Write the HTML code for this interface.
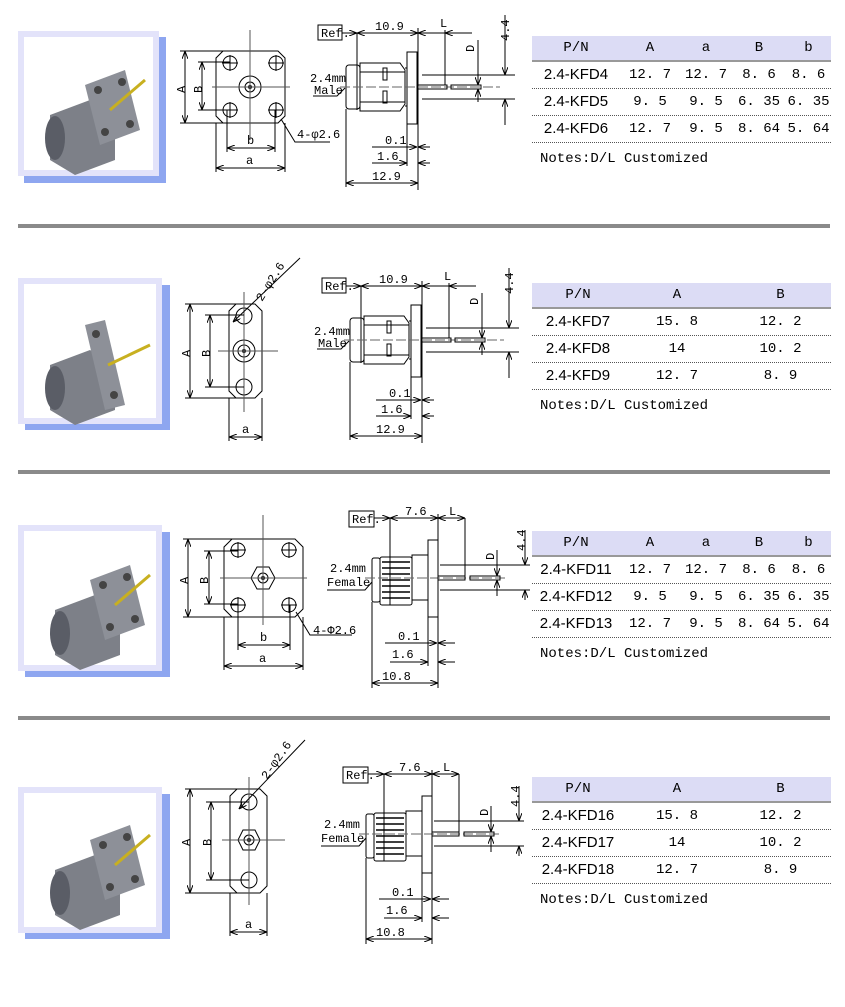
<!DOCTYPE html>
<html><head><meta charset="utf-8"><style>
body{margin:0;width:845px;height:1007px;background:#fff;position:relative;overflow:hidden;font-family:"Liberation Sans",sans-serif}
.frame{position:absolute;background:#fff;border:6px solid #e3e3fa;box-sizing:border-box}
.shadow{position:absolute;background:#8ea6f0}
.sep{position:absolute;left:18px;width:812px;height:4px;background:#8a8a8a}
.tbl{position:absolute;left:532px;width:299px}
.hdr{background:#dcdcf5;height:24px;display:flex;font-family:"Liberation Mono",monospace;font-size:14px;line-height:24px;border-bottom:2px solid #999}
.row{display:flex;height:26px;line-height:26px;border-bottom:1px dotted #555;font-family:"Liberation Mono",monospace;font-size:14px}
.row div,.hdr div{text-align:center;white-space:nowrap}
.row div:first-child{font-family:"Liberation Sans",sans-serif;font-size:15px}
.notes{font-family:"Liberation Mono",monospace;font-size:14px;margin-top:8px;padding-left:8px}
svg{position:absolute;left:0;top:0}
svg text{font-family:"Liberation Mono",monospace;font-size:12px;fill:#000}
</style></head><body>

<div class="shadow" style="left:24px;top:37px;width:142px;height:146px"></div>
<div class="frame" style="left:18px;top:31px;width:141px;height:145px"></div>
<div class="shadow" style="left:25px;top:285px;width:145px;height:145px"></div>
<div class="frame" style="left:18px;top:278px;width:144px;height:146px"></div>
<div class="shadow" style="left:25px;top:532px;width:145px;height:145px"></div>
<div class="frame" style="left:18px;top:525px;width:144px;height:146px"></div>
<div class="shadow" style="left:25px;top:794px;width:145px;height:145px"></div>
<div class="frame" style="left:18px;top:787px;width:144px;height:146px"></div>

<div class="sep" style="top:224px"></div>
<div class="sep" style="top:470px"></div>
<div class="sep" style="top:716px"></div>

<div class="tbl" style="top:36px">
<div class="hdr"><div style="width:88px">P/N</div><div style="width:60px">A</div><div style="width:52px">a</div><div style="width:54px">B</div><div style="width:45px">b</div></div>
<div class="row"><div style="width:88px">2.4-KFD4</div><div style="width:60px">12. 7</div><div style="width:52px">12. 7</div><div style="width:54px">8. 6</div><div style="width:45px">8. 6</div></div>
<div class="row"><div style="width:88px">2.4-KFD5</div><div style="width:60px">9. 5</div><div style="width:52px">9. 5</div><div style="width:54px">6. 35</div><div style="width:45px">6. 35</div></div>
<div class="row"><div style="width:88px">2.4-KFD6</div><div style="width:60px">12. 7</div><div style="width:52px">9. 5</div><div style="width:54px">8. 64</div><div style="width:45px">5. 64</div></div>
<div class="notes">Notes:D/L Customized</div>
</div>
<div class="tbl" style="top:283px">
<div class="hdr"><div style="width:92px">P/N</div><div style="width:106px">A</div><div style="width:101px">B</div></div>
<div class="row"><div style="width:92px">2.4-KFD7</div><div style="width:106px">15. 8</div><div style="width:101px">12. 2</div></div>
<div class="row"><div style="width:92px">2.4-KFD8</div><div style="width:106px">14</div><div style="width:101px">10. 2</div></div>
<div class="row"><div style="width:92px">2.4-KFD9</div><div style="width:106px">12. 7</div><div style="width:101px">8. 9</div></div>
<div class="notes">Notes:D/L Customized</div>
</div>
<div class="tbl" style="top:531px">
<div class="hdr"><div style="width:88px">P/N</div><div style="width:60px">A</div><div style="width:52px">a</div><div style="width:54px">B</div><div style="width:45px">b</div></div>
<div class="row"><div style="width:88px">2.4-KFD11</div><div style="width:60px">12. 7</div><div style="width:52px">12. 7</div><div style="width:54px">8. 6</div><div style="width:45px">8. 6</div></div>
<div class="row"><div style="width:88px">2.4-KFD12</div><div style="width:60px">9. 5</div><div style="width:52px">9. 5</div><div style="width:54px">6. 35</div><div style="width:45px">6. 35</div></div>
<div class="row"><div style="width:88px">2.4-KFD13</div><div style="width:60px">12. 7</div><div style="width:52px">9. 5</div><div style="width:54px">8. 64</div><div style="width:45px">5. 64</div></div>
<div class="notes">Notes:D/L Customized</div>
</div>
<div class="tbl" style="top:777px">
<div class="hdr"><div style="width:92px">P/N</div><div style="width:106px">A</div><div style="width:101px">B</div></div>
<div class="row"><div style="width:92px">2.4-KFD16</div><div style="width:106px">15. 8</div><div style="width:101px">12. 2</div></div>
<div class="row"><div style="width:92px">2.4-KFD17</div><div style="width:106px">14</div><div style="width:101px">10. 2</div></div>
<div class="row"><div style="width:92px">2.4-KFD18</div><div style="width:106px">12. 7</div><div style="width:101px">8. 9</div></div>
<div class="notes">Notes:D/L Customized</div>
</div>

<svg width="845" height="1007" viewBox="0 0 845 1007">
<defs>
<marker id="a" markerWidth="8" markerHeight="6" refX="8" refY="3" orient="auto-start-reverse" markerUnits="userSpaceOnUse"><path d="M0,0 L8,3 L0,6" fill="none" stroke="#000" stroke-width="1"/></marker>
<g id="photo4">
 <path d="M20,55 L60,40 L85,55 L85,100 L45,115 L20,100Z" fill="#7d8088"/>
 <ellipse cx="25" cy="78" rx="10" ry="22" fill="#5a5d66"/>
 <path d="M55,25 L95,10 L110,70 L70,85Z" fill="#8d9098"/>
 <circle cx="68" cy="30" r="4" fill="#444"/><circle cx="92" cy="22" r="4" fill="#444"/><circle cx="75" cy="72" r="4" fill="#444"/><circle cx="100" cy="64" r="4" fill="#444"/>
 <line x1="80" y1="50" x2="115" y2="20" stroke="#c8b020" stroke-width="3"/>
</g>
<g id="photo2">
 <path d="M20,55 L60,40 L85,55 L85,100 L45,115 L20,100Z" fill="#7d8088"/>
 <ellipse cx="25" cy="78" rx="10" ry="22" fill="#5a5d66"/>
 <path d="M55,15 L75,10 L95,95 L75,100Z" fill="#8d9098"/>
 <circle cx="66" cy="24" r="4" fill="#444"/><circle cx="84" cy="85" r="4" fill="#444"/>
 <line x1="78" y1="55" x2="120" y2="35" stroke="#c8b020" stroke-width="3"/>
</g>
</defs>

<use href="#photo4" x="30" y="60"/>
<use href="#photo2" x="30" y="310"/>
<use href="#photo4" x="35" y="555"/>
<use href="#photo4" x="35" y="815"/>

<g fill="none" stroke="#000" stroke-width="1">
<path d="M223,51 L278,51 L285,58 L285,116 L278,123 L223,123 L216,116 L216,58Z"/>
<circle cx="230" cy="63" r="7"/><circle cx="276" cy="63" r="7"/><circle cx="230" cy="110" r="7"/><circle cx="276" cy="110" r="7"/>
<circle cx="250" cy="87" r="11"/><circle cx="250" cy="87" r="5"/><circle cx="250" cy="87" r="1.5" fill="#000"/>
<line x1="250" y1="30" x2="250" y2="140" stroke="#555"/><line x1="212" y1="87" x2="290" y2="87" stroke="#555"/>
<line x1="222" y1="63" x2="238" y2="63"/><line x1="230" y1="55" x2="230" y2="71"/><line x1="268" y1="63" x2="284" y2="63"/><line x1="276" y1="55" x2="276" y2="71"/>
<line x1="222" y1="110" x2="238" y2="110"/><line x1="230" y1="102" x2="230" y2="118"/><line x1="268" y1="110" x2="284" y2="110"/><line x1="276" y1="102" x2="276" y2="118"/>
<line x1="180" y1="51" x2="223" y2="51"/><line x1="180" y1="123" x2="223" y2="123"/>
<line x1="185" y1="51" x2="185" y2="123" marker-start="url(#a)" marker-end="url(#a)"/>
<line x1="198" y1="62" x2="230" y2="62"/><line x1="198" y1="110" x2="230" y2="110"/>
<line x1="202" y1="62" x2="202" y2="110" marker-start="url(#a)" marker-end="url(#a)"/>
<line x1="227" y1="110" x2="227" y2="152"/><line x1="275" y1="110" x2="275" y2="152"/>
<line x1="227" y1="148" x2="275" y2="148" marker-start="url(#a)" marker-end="url(#a)"/>
<line x1="216" y1="123" x2="216" y2="172"/><line x1="285" y1="123" x2="285" y2="172"/>
<line x1="216" y1="168" x2="285" y2="168" marker-start="url(#a)" marker-end="url(#a)"/>
<polyline points="330,142 295,142 281,119"/>

<path d="M232,539 L295,539 L303,547 L303,609 L295,617 L232,617 L224,609 L224,547Z"/>
<circle cx="238" cy="550" r="7"/><circle cx="289" cy="550" r="7"/><circle cx="238" cy="605" r="7"/><circle cx="289" cy="605" r="7"/>
<path d="M257,567 L269,567 L275,578 L269,589 L257,589 L251,578Z"/><circle cx="263" cy="578" r="5"/><circle cx="263" cy="578" r="1.5" fill="#000"/>
<line x1="263" y1="515" x2="263" y2="625" stroke="#555"/><line x1="220" y1="578" x2="307" y2="578" stroke="#555"/>
<line x1="230" y1="550" x2="246" y2="550"/><line x1="238" y1="542" x2="238" y2="558"/><line x1="281" y1="550" x2="297" y2="550"/><line x1="289" y1="542" x2="289" y2="558"/>
<line x1="230" y1="605" x2="246" y2="605"/><line x1="238" y1="597" x2="238" y2="613"/><line x1="281" y1="605" x2="297" y2="605"/><line x1="289" y1="597" x2="289" y2="613"/>
<line x1="183" y1="539" x2="232" y2="539"/><line x1="183" y1="617" x2="232" y2="617"/>
<line x1="188" y1="539" x2="188" y2="617" marker-start="url(#a)" marker-end="url(#a)"/>
<line x1="204" y1="551" x2="238" y2="551"/><line x1="204" y1="604" x2="238" y2="604"/>
<line x1="209" y1="551" x2="209" y2="604" marker-start="url(#a)" marker-end="url(#a)"/>
<line x1="238" y1="605" x2="238" y2="650"/><line x1="290" y1="605" x2="290" y2="650"/>
<line x1="238" y1="645" x2="290" y2="645" marker-start="url(#a)" marker-end="url(#a)"/>
<line x1="224" y1="617" x2="224" y2="670"/><line x1="303" y1="617" x2="303" y2="670"/>
<line x1="224" y1="666" x2="303" y2="666" marker-start="url(#a)" marker-end="url(#a)"/>
<polyline points="352,635 310,635 296,612"/>

<path d="M236,304 L255,304 L262,311 L262,391 L255,398 L236,398 L229,391 L229,311Z"/>
<circle cx="244" cy="316" r="8"/><circle cx="244" cy="387" r="8"/>
<circle cx="244" cy="351" r="11"/><circle cx="244" cy="351" r="6"/><circle cx="244" cy="351" r="1.5" fill="#000"/>
<line x1="244" y1="292" x2="244" y2="412" stroke="#555"/><line x1="218" y1="351" x2="278" y2="351" stroke="#555"/>
<line x1="185" y1="304" x2="236" y2="304"/><line x1="185" y1="398" x2="236" y2="398"/>
<line x1="190" y1="304" x2="190" y2="398" marker-start="url(#a)" marker-end="url(#a)"/>
<line x1="205" y1="315" x2="244" y2="315"/><line x1="205" y1="387" x2="244" y2="387"/>
<line x1="210" y1="315" x2="210" y2="387" marker-start="url(#a)" marker-end="url(#a)"/>
<line x1="229" y1="398" x2="229" y2="441"/><line x1="262" y1="398" x2="262" y2="441"/>
<line x1="229" y1="437" x2="262" y2="437" marker-start="url(#a)" marker-end="url(#a)"/>
<line x1="300" y1="258" x2="233" y2="322" marker-end="url(#a)"/>

<path d="M237,789 L260,789 L267,796 L267,886 L260,893 L237,893 L230,886 L230,796Z"/>
<circle cx="249" cy="802" r="8"/><circle cx="249" cy="880" r="8"/>
<path d="M243,830 L255,830 L260,840 L255,850 L243,850 L238,840Z"/><circle cx="249" cy="840" r="5"/><circle cx="249" cy="840" r="1.5" fill="#000"/>
<line x1="249" y1="777" x2="249" y2="905" stroke="#555"/><line x1="222" y1="840" x2="285" y2="840" stroke="#555"/>
<line x1="185" y1="789" x2="237" y2="789"/><line x1="185" y1="893" x2="237" y2="893"/>
<line x1="190" y1="789" x2="190" y2="893" marker-start="url(#a)" marker-end="url(#a)"/>
<line x1="206" y1="802" x2="249" y2="802"/><line x1="206" y1="880" x2="249" y2="880"/>
<line x1="211" y1="802" x2="211" y2="880" marker-start="url(#a)" marker-end="url(#a)"/>
<line x1="230" y1="893" x2="230" y2="936"/><line x1="267" y1="893" x2="267" y2="936"/>
<line x1="230" y1="932" x2="267" y2="932" marker-start="url(#a)" marker-end="url(#a)"/>
<line x1="305" y1="740" x2="239" y2="809" marker-end="url(#a)"/>
</g>

<g font-size="12">
<text x="174" y="92" transform="rotate(-90 180 87)">A</text>
<text x="191" y="92" transform="rotate(-90 197 87)">B</text>
<text x="247" y="144">b</text><text x="246" y="164">a</text>
<text x="297" y="138">4-φ2.6</text>
<text x="177" y="583" transform="rotate(-90 183 578)">A</text>
<text x="197" y="583" transform="rotate(-90 203 578)">B</text>
<text x="260" y="641">b</text><text x="259" y="662">a</text>
<text x="313" y="634">4-Φ2.6</text>
<text x="179" y="356" transform="rotate(-90 185 351)">A</text>
<text x="199" y="356" transform="rotate(-90 205 351)">B</text>
<text x="242" y="433">a</text>
<text x="262" y="302" transform="rotate(-58 262 302)">2-φ2.6</text>
<text x="179" y="845" transform="rotate(-90 185 840)">A</text>
<text x="200" y="845" transform="rotate(-90 206 840)">B</text>
<text x="245" y="928">a</text>
<text x="267" y="780" transform="rotate(-55 267 780)">2-φ2.6</text>
</g>

<g id="male">
<g fill="none" stroke="#000" stroke-width="1">
<rect x="318" y="25" width="24" height="15"/>
<line x1="342" y1="33" x2="357" y2="33" marker-end="url(#a)"/>
<line x1="357" y1="33" x2="418" y2="33" marker-start="url(#a)" marker-end="url(#a)"/>
<line x1="357" y1="33" x2="357" y2="110"/>
<line x1="418" y1="28" x2="418" y2="190"/>
<line x1="418" y1="33" x2="445" y2="33" marker-start="url(#a)"/>
<line x1="445" y1="33" x2="472" y2="33" marker-start="url(#a)"/>
<line x1="445" y1="30" x2="445" y2="85"/>
<rect x="407" y="52" width="10" height="72"/>
<rect x="346" y="65" width="14" height="44" rx="3"/>
<path d="M360,63 L400,63 L405,70 L405,104 L400,111 L360,111Z"/>
<line x1="360" y1="72" x2="405" y2="72"/><line x1="360" y1="102" x2="405" y2="102"/>
<rect x="383" y="68" width="4" height="12"/><rect x="383" y="91" width="4" height="12"/>
<line x1="405" y1="68" x2="407" y2="68"/><line x1="405" y1="106" x2="407" y2="106"/>
<line x1="340" y1="87" x2="500" y2="87" stroke="#666" stroke-dasharray="10,3"/>
<rect x="417" y="85" width="30" height="4"/><rect x="451" y="85" width="30" height="4"/>
<line x1="422" y1="75" x2="515" y2="75"/><line x1="422" y1="99" x2="515" y2="99"/>
<line x1="478" y1="40" x2="478" y2="85" marker-end="url(#a)"/><line x1="478" y1="89" x2="478" y2="102" marker-start="url(#a)"/>
<line x1="505" y1="15" x2="505" y2="75" marker-end="url(#a)"/><line x1="505" y1="99" x2="505" y2="125" marker-start="url(#a)"/>
<polyline points="313,96 337,96 345,88"/>
<line x1="372" y1="147" x2="417" y2="147" marker-end="url(#a)"/><line x1="418" y1="147" x2="430" y2="147" marker-start="url(#a)"/>
<line x1="372" y1="163" x2="407" y2="163" marker-end="url(#a)"/><line x1="418" y1="163" x2="430" y2="163" marker-start="url(#a)"/>
<line x1="407" y1="124" x2="407" y2="166"/>
<line x1="346" y1="109" x2="346" y2="187"/>
<line x1="346" y1="183" x2="418" y2="183" marker-start="url(#a)" marker-end="url(#a)"/>
</g>
<text x="321" y="37" font-size="9">Ref.</text>
<text x="375" y="30">10.9</text>
<text x="440" y="27">L</text>
<text x="466" y="52" transform="rotate(-90 470 48)">D</text>
<text x="494" y="34" transform="rotate(-90 505 30)">4.4</text>
<text x="310" y="82" font-size="10">2.4mm</text>
<text x="314" y="94" font-size="10">Male</text>
<text x="385" y="144">0.1</text>
<text x="377" y="160">1.6</text>
<text x="372" y="180">12.9</text>
</g>
<use href="#male" x="4" y="253"/>

<g id="fem">
<g fill="none" stroke="#000" stroke-width="1">
<rect x="349" y="511" width="25" height="16"/>
<line x1="374" y1="518" x2="390" y2="518" marker-end="url(#a)"/>
<line x1="390" y1="518" x2="438" y2="518" marker-start="url(#a)" marker-end="url(#a)"/>
<line x1="390" y1="518" x2="390" y2="605"/>
<line x1="438" y1="514" x2="438" y2="688"/>
<line x1="438" y1="518" x2="465" y2="518" marker-start="url(#a)" marker-end="url(#a)"/>
<line x1="465" y1="518" x2="465" y2="578"/>
<rect x="428" y="540" width="10" height="77"/>
<rect x="372" y="558" width="8" height="44" rx="2"/>
<rect x="380" y="557" width="32" height="48" rx="2"/>
<path d="M382,562 H410 M382,568 H410 M382,574 H410 M382,580 H410 M382,586 H410 M382,592 H410 M382,598 H410" stroke-width="1.5"/>
<rect x="412" y="555" width="16" height="45"/>
<line x1="365" y1="578" x2="505" y2="578" stroke="#666" stroke-dasharray="10,3"/>
<rect x="438" y="576" width="27" height="4"/><rect x="470" y="576" width="30" height="4"/>
<line x1="440" y1="565" x2="530" y2="565"/><line x1="440" y1="590" x2="530" y2="590"/>
<line x1="497" y1="550" x2="497" y2="576" marker-end="url(#a)"/><line x1="497" y1="580" x2="497" y2="596" marker-start="url(#a)"/>
<line x1="525" y1="530" x2="525" y2="565" marker-end="url(#a)"/><line x1="525" y1="590" x2="525" y2="600" marker-start="url(#a)"/>
<polyline points="327,590 365,590 372,582"/>
<line x1="385" y1="643" x2="437" y2="643" marker-end="url(#a)"/><line x1="438" y1="643" x2="455" y2="643" marker-start="url(#a)"/>
<line x1="390" y1="662" x2="428" y2="662" marker-end="url(#a)"/><line x1="438" y1="662" x2="455" y2="662" marker-start="url(#a)"/>
<line x1="428" y1="617" x2="428" y2="666"/>
<line x1="372" y1="602" x2="372" y2="688"/>
<line x1="372" y1="683" x2="438" y2="683" marker-start="url(#a)" marker-end="url(#a)"/>
</g>
<text x="352" y="523" font-size="9">Ref.</text>
<text x="405" y="515">7.6</text>
<text x="449" y="515">L</text>
<text x="486" y="560" transform="rotate(-90 490 556)">D</text>
<text x="510" y="544" transform="rotate(-90 521 540)">4.4</text>
<text x="330" y="572" font-size="10">2.4mm</text>
<text x="327" y="586" font-size="10">Female</text>
<text x="398" y="640">0.1</text>
<text x="392" y="658">1.6</text>
<text x="382" y="680">10.8</text>
</g>
<use href="#fem" x="-6" y="256"/>
</svg>
</body></html>
